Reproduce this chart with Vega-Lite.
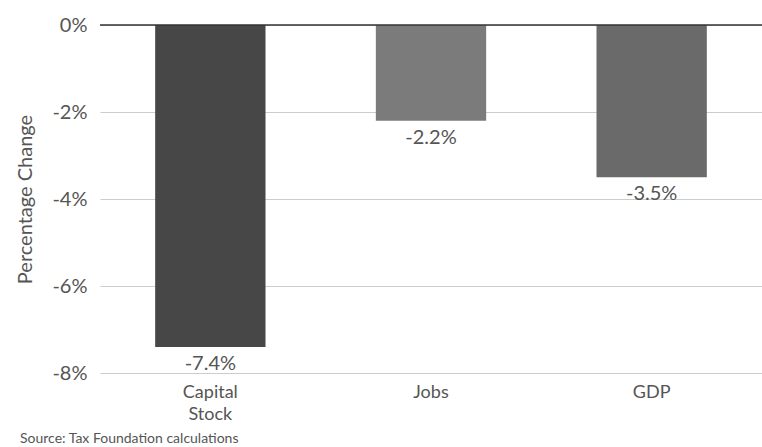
{
  "$schema": "https://vega.github.io/schema/vega-lite/v6.json",
  "autosize": {"type": "none"},
  "width": 662,
  "height": 348,
  "padding": {"left": 100, "top": 25, "right": 0, "bottom": 74},
  "background": "white",
  "config": {
    "font": "Lato",
    "view": {"stroke": null}
  },
  "title": {
    "text": "Source: Tax Foundation calculations",
    "orient": "bottom",
    "anchor": "start",
    "frame": "group",
    "dx": -80,
    "offset": 9,
    "fontSize": 14,
    "fontWeight": "normal",
    "color": "#555555",
    "font": "Lato"
  },
  "data": {
    "values": [
      {"category": "Capital Stock", "value": -7.4, "label": "-7.4%"},
      {"category": "Jobs", "value": -2.2, "label": "-2.2%"},
      {"category": "GDP", "value": -3.5, "label": "-3.5%"}
    ]
  },
  "encoding": {
    "x": {
      "field": "category",
      "type": "nominal",
      "sort": null,
      "scale": {"paddingInner": 0.5, "paddingOuter": 0.25},
      "axis": {
        "title": null,
        "labelAngle": 0,
        "domain": false,
        "ticks": false,
        "labelPadding": 10,
        "labelFontSize": 18,
        "labelColor": "#555555",
        "labelLineHeight": 22,
        "labelExpr": "split(datum.label, ' ')"
      }
    },
    "y": {
      "field": "value",
      "type": "quantitative",
      "scale": {"domain": [-8, 0], "nice": false},
      "axis": {
        "values": [0, -2, -4, -6, -8],
        "labelExpr": "datum.value + '%'",
        "title": "Percentage Change",
        "titleFontSize": 20,
        "titleFontWeight": "normal",
        "titleColor": "#555555",
        "titlePadding": 16,
        "labelFontSize": 20,
        "labelColor": "#555555",
        "labelPadding": 13,
        "domain": false,
        "ticks": false,
        "gridColor": "#cccccc",
        "gridWidth": 1
      }
    }
  },
  "layer": [
    {
      "mark": {"type": "bar"},
      "encoding": {
        "color": {
          "field": "category",
          "type": "nominal",
          "scale": {"domain": ["Capital Stock", "Jobs", "GDP"], "range": ["#474747", "#7b7b7b", "#6a6a6a"]},
          "legend": null
        }
      }
    },
    {
      "mark": {"type": "text", "baseline": "top", "dy": 7, "fontSize": 20, "color": "#555555"},
      "encoding": {"text": {"field": "label"}}
    },
    {
      "data": {"values": [{"zero": 0}]},
      "mark": {"type": "rule", "color": "#333333", "strokeWidth": 1.5},
      "encoding": {"y": {"field": "zero", "type": "quantitative"}, "x": {"value": 0}, "x2": {"value": 662}}
    }
  ]
}
